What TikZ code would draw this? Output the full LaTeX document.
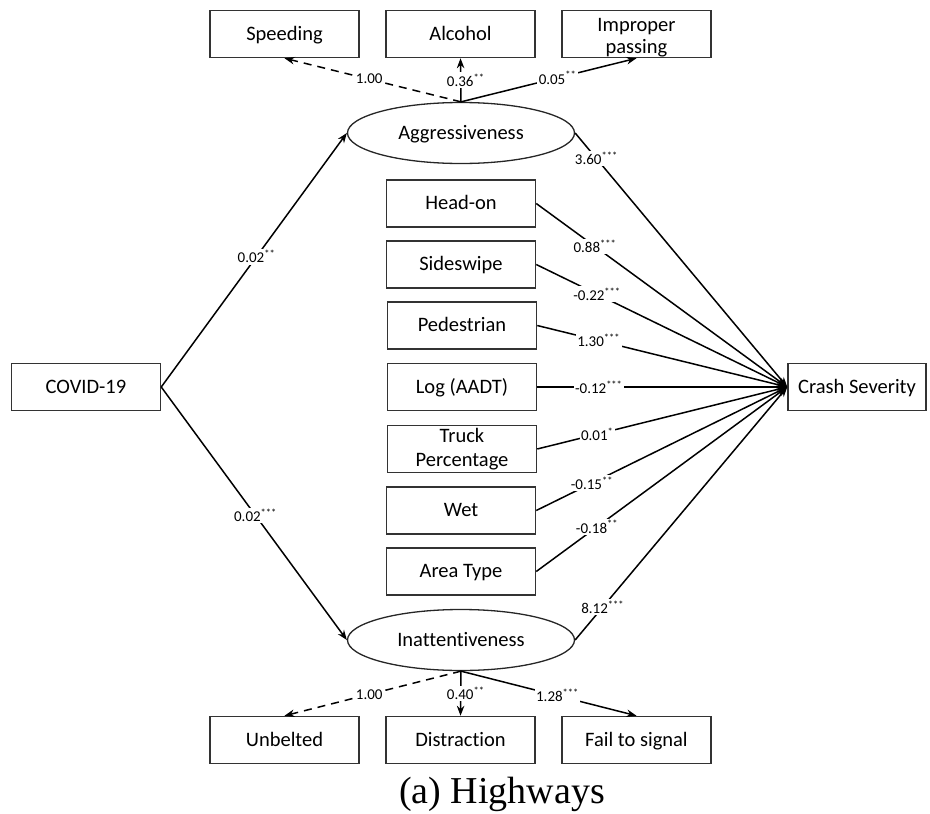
\documentclass[tikz,border=0pt]{standalone}
\usepackage{fontspec}
\setmainfont{Carlito}[Ligatures=NoCommon]
\newfontfamily\capfont{Liberation Serif}
\usetikzlibrary{shapes.geometric,arrows.meta}
\begin{document}
\begin{tikzpicture}[x=1pt,y=-1pt,
  box/.style={draw=black!80,line width=1.5pt,minimum width=149pt,minimum height=47pt,inner sep=0pt,font=\fontsize{20.5}{22}\selectfont,text height=15pt,text depth=3pt},
  box2/.style={draw=black!80,line width=1.5pt,minimum width=149pt,minimum height=47pt,inner sep=0pt,font=\fontsize{20.5}{22}\selectfont},
  lat/.style={ellipse,draw=black!85,line width=1.3pt,minimum width=227pt,minimum height=61pt,inner sep=0pt,font=\fontsize{20.5}{22}\selectfont,text height=15pt,text depth=3pt},
  arr/.style={-{Stealth[length=10pt,width=7.5pt]},line width=1.5pt},
  dsh/.style={arr,dash pattern=on 8pt off 6pt},
  lab/.style={fill=white,inner sep=1.5pt,font=\fontsize{15}{16}\selectfont},
  cause/.style={line width=1.5pt,-{Stealth[length=10pt,width=7.5pt]}}
]
\useasboundingbox (0,0) rectangle (930,814);
% top indicators
\node[box] (spd) at (284.5,34) {Speeding};
\node[box] (alc) at (460.5,34) {Alcohol};
\node[box2] (imp) at (636.5,34) {\raisebox{0pt}[30pt][12pt]{\begin{tabular}{@{}c@{}}Improper\\passing\end{tabular}}};
% latent variables
\node[lat] (agg) at (461,133) {Aggressiveness};
\node[lat] (ina) at (461,640) {Inattentiveness};
% bottom indicators
\node[box] (unb) at (284.5,740) {Unbelted};
\node[box] (dis) at (460.5,740) {Distraction};
\node[box] (fts) at (636.5,740) {Fail to signal};
% middle boxes
\node[box] (hon) at (461,203.5) {Head-on};
\node[box] (ssw) at (461,264.5) {Sideswipe};
\node[box] (ped) at (462,325.5) {Pedestrian};
\node[box] (aadt) at (462,387) {Log (AADT)};
\node[box2] (trk) at (462,449) {\raisebox{0pt}[27pt][15pt]{\begin{tabular}{@{}c@{}}Truck\\[2pt]Percentage\end{tabular}}};
\node[box] (wet) at (461,510.5) {Wet};
\node[box] (are) at (461,571.5) {Area Type};
% exogenous / outcome
\node[box] (cov) at (86,387) {COVID-19};
\node[box,minimum width=138pt] (crs) at (857,387) {Crash Severity};
% measurement paths
\draw[dsh] (agg.north) -- node[lab,pos=0.52] {1.00} (spd.south);
\draw[arr] (agg.north) -- node[lab,pos=0.5,xshift=5pt] {0.36\textsuperscript{**}} (alc.south);
\draw[arr] (agg.north) -- node[lab,pos=0.55] {0.05\textsuperscript{**}} (imp.south);
\draw[dsh] (ina.south) -- node[lab,pos=0.52] {1.00} (unb.north);
\draw[arr] (ina.south) -- node[lab,pos=0.5,xshift=5pt] {0.40\textsuperscript{**}} (dis.north);
\draw[arr] (ina.south) -- node[lab,pos=0.55] {1.28\textsuperscript{***}} (fts.north);
% covid paths
\draw[arr] (cov.east) -- node[lab,pos=0.513] {0.02\textsuperscript{**}} (agg.west);
\draw[arr] (cov.east) -- node[lab,pos=0.508] {0.02\textsuperscript{***}} (ina.west);
% paths to crash severity
\draw[cause] (agg.east) -- node[lab,pos=0.1] {3.60\textsuperscript{***}} (crs.west);
\draw[cause] (hon.east) -- node[lab,pos=0.234] {0.88\textsuperscript{***}} (crs.west);
\draw[cause] (ssw.east) -- node[lab,pos=0.242] {-0.22\textsuperscript{***}} (crs.west);
\draw[cause] (ped.east) -- node[lab,pos=0.246] {1.30\textsuperscript{***}} (crs.west);
\draw[cause] (aadt.east) -- node[lab,pos=0.246] {-0.12\textsuperscript{***}} (crs.west);
\draw[cause] (trk.east) -- node[lab,pos=0.24] {0.01\textsuperscript{*}} (crs.west);
\draw[cause] (wet.east) -- node[lab,pos=0.222] {-0.15\textsuperscript{**}} (crs.west);
\draw[cause] (are.east) -- node[lab,pos=0.242] {-0.18\textsuperscript{**}} (crs.west);
\draw[cause] (ina.east) -- node[lab,pos=0.13] {8.12\textsuperscript{***}} (crs.west);
% caption
\node[anchor=base,inner sep=0pt,font=\capfont\fontsize{38}{40}\selectfont] (cap) at (502,803) {(a) Highways};
\end{tikzpicture}
\end{document}
